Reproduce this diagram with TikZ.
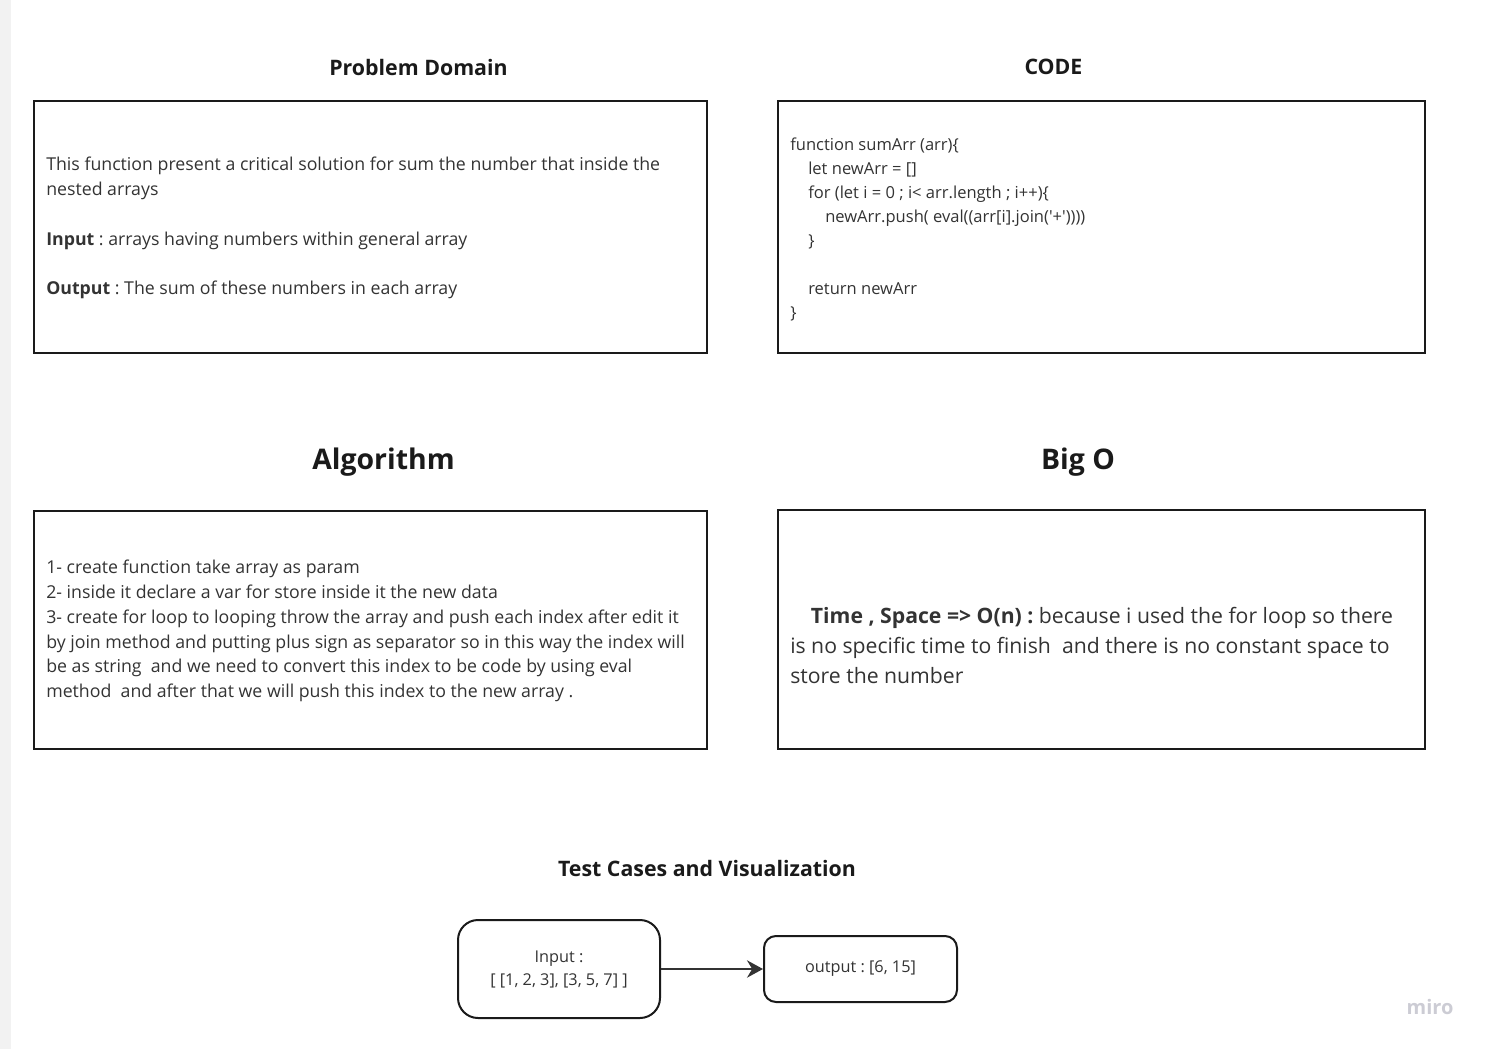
\documentclass[tikz,border=0pt]{standalone}
\usepackage{fontspec}
\setmainfont{Open Sans}
\usetikzlibrary{arrows.meta}
\definecolor{inkline}{HTML}{1A1A1A}
\definecolor{inktext}{HTML}{333333}
\definecolor{sidebar}{HTML}{F2F2F2}
\definecolor{mirogray}{HTML}{CCCCD4}
\frenchspacing

\begin{document}
\begin{tikzpicture}[x=0.75pt,y=-0.75pt,
		panel/.style={draw=inkline,line width=1.5pt},
		heading/.style={font=\bfseries\fontsize{16}{19}\selectfont,text=inkline},
		bigheading/.style={font=\bfseries\fontsize{21.3}{25}\selectfont,text=inkline},
		body/.style={anchor=west,align=left,inner sep=0pt,text=inktext,font=\fontsize{13.3}{18.6}\selectfont},
		casebox/.style={draw=inkline,line width=1.5pt,align=center,text=inktext,font=\fontsize{12.2}{17.25}\selectfont}]
		\useasboundingbox (0,0) rectangle (1489,1049);
		\fill[sidebar] (0,0) rectangle (11,1049);
		% titles
		\node[heading] (pdtitle) at (418.5,67) {Problem Domain};
		\node[heading] (codetitle) at (1053.5,67) {CODE};
		\node[bigheading] (algotitle) at (383.5,462) {Algorithm};
		\node[bigheading] (bigotitle) at (1078,462) {Big O};
		\node[heading] (testtitle) at (707,868) {Test Cases and Visualization};
		% panels
		\draw[panel] (34,101) rectangle (707,353);
		\draw[panel] (778,101) rectangle (1425,353);
		\draw[panel] (34,511) rectangle (707,749);
		\draw[panel] (778,510) rectangle (1425,749);
		\node[body] (pdtext) at (46,228) {This function present a critical solution for sum the number that inside the\\
			nested arrays\\[18.6pt]
			\textbf{Input} : arrays having numbers within general array\\[18.6pt]
			\textbf{Output} : The sum of these numbers in each array};
		\node[body,font=\fontsize{12.4}{18}\selectfont] (codetext) at (790,229) {function sumArr (arr)\{\\
			\hspace*{13.5pt}let newArr = []\\
			\hspace*{13.5pt}for (let i = 0 ; i< arr.length ; i++)\{\\
			\hspace*{26.25pt}newArr.push( eval((arr[i].join(\textquotesingle+\textquotesingle))))\\
			\hspace*{13.5pt}\}\\[18pt]
			\hspace*{13.5pt}return newArr\\
			\}};
		\node[body] (algotext) at (46,631) {1- create function take array as param\\
			2- inside it declare a var for store inside it the new data\\
			3- create for loop to looping throw the array and push each index after edit it\\
			by join method and putting plus sign as separator so in this way the index will\\
			be as string\ \ and we need to convert this index to be code by using eval\\
			method\ \ and after that we will push this index to the new array .};
		\node[body,font=\fontsize{15.9}{22.5}\selectfont] (bigotext) at (790,645) {\hspace*{15.5pt}\textbf{Time , Space => O(n) :} because i used the for loop so there\\
			is no specific time to finish\ \ and there is no constant space to\\
			store the number};
		% test cases
		\node[casebox,rounded corners=15pt,minimum width=151.5pt,minimum height=73.5pt] (input) at (559,969) {Input :\\ {}[ [1, 2, 3], [3, 5, 7] ]};
		\node[casebox,rounded corners=9pt,minimum width=144.75pt,minimum height=49.5pt] (output) at (860.5,969) {output : [6, 15]};
		\draw[inktext,line width=1.5pt,-{Stealth[length=12pt,width=13pt]}] (input) -- (output);
		\node[text=mirogray,font=\bfseries\fontsize{15}{18}\selectfont] (miro) at (1430,1007) {miro};
	\end{tikzpicture}
\end{document}
